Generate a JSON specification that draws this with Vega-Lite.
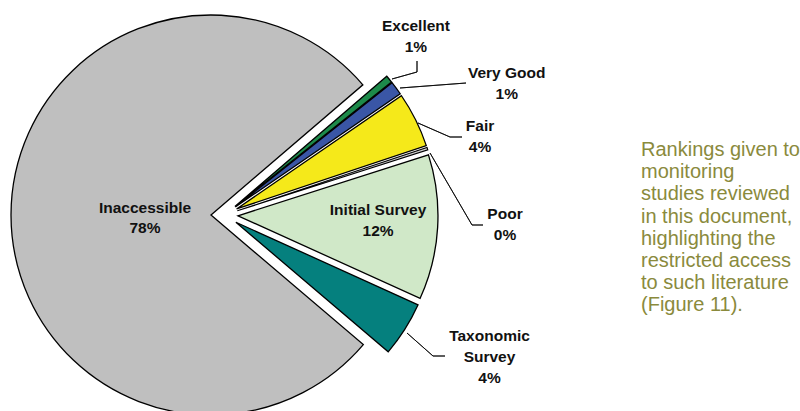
{
  "$schema": "https://vega.github.io/schema/vega-lite/v6.json",
  "background": "white",
  "bounds": "flush",
  "spacing": 20,
  "config": {"view": {"stroke": null}, "font": "Liberation Sans"},
  "hconcat": [
    {
      "width": 439,
      "height": 420,
      "data": {"values": [
        {"label": "Excellent", "pct": 0.6, "order": 1, "text": "Excellent\n1%"},
        {"label": "Very Good", "pct": 1.1, "order": 2, "text": "Very Good\n1%"},
        {"label": "Fair", "pct": 4.45, "order": 3, "text": "Fair\n4%"},
        {"label": "Poor", "pct": 0.2, "order": 4, "text": "Poor\n0%"},
        {"label": "Initial Survey", "pct": 11.7, "order": 5, "text": "Initial Survey\n12%"},
        {"label": "Taxonomic Survey", "pct": 4.45, "order": 6, "text": "Taxonomic\nSurvey\n4%"},
        {"label": "Inaccessible", "pct": 77.5, "order": 7, "text": "Inaccessible\n78%"}
      ]},
      "transform": [
        {"stack": "pct", "groupby": [], "sort": [{"field": "order", "order": "ascending"}], "as": ["t0", "t1"]}
      ],
      "layer": [
        {
          "transform": [{"filter": "datum.label === 'Inaccessible'"}],
          "mark": {"type": "arc", "radius": 200, "stroke": "#000", "strokeWidth": 1.3, "xOffset": -13.5, "yOffset": 0},
          "encoding": {
            "theta": {"field": "t0", "type": "quantitative", "scale": {"domain": [0, 100], "range": [0.86219, 7.14538]}},
            "theta2": {"field": "t1"},
            "color": {"field": "label", "type": "nominal", "legend": null, "scale": {"domain": ["Excellent", "Very Good", "Fair", "Poor", "Initial Survey", "Taxonomic Survey", "Inaccessible"], "range": ["#1d8a4a", "#3a56a6", "#f5e91a", "#d0d0d0", "#d0e8c8", "#05807e", "#bfbfbf"]}}
          }
        },
        {
          "transform": [{"filter": "datum.label === 'Taxonomic Survey'"}],
          "mark": {"type": "arc", "radius": 200, "stroke": "#000", "strokeWidth": 1.3, "xOffset": 11.4, "yOffset": 7.23},
          "encoding": {
            "theta": {"field": "t0", "type": "quantitative", "scale": {"domain": [0, 100], "range": [0.86219, 7.14538]}},
            "theta2": {"field": "t1"},
            "color": {"field": "label", "type": "nominal", "legend": null}
          }
        },
        {
          "transform": [{"filter": "datum.label === 'Initial Survey'"}],
          "mark": {"type": "arc", "radius": 200, "stroke": "#000", "strokeWidth": 1.3, "xOffset": 13.48, "yOffset": 0.78},
          "encoding": {
            "theta": {"field": "t0", "type": "quantitative", "scale": {"domain": [0, 100], "range": [0.86219, 7.14538]}},
            "theta2": {"field": "t1"},
            "color": {"field": "label", "type": "nominal", "legend": null}
          }
        },
        {
          "transform": [{"filter": "datum.label === 'Poor'"}],
          "mark": {"type": "arc", "radius": 200, "stroke": "#000", "strokeWidth": 1.1, "xOffset": 12.83, "yOffset": -4.19},
          "encoding": {
            "theta": {"field": "t0", "type": "quantitative", "scale": {"domain": [0, 100], "range": [0.86219, 7.14538]}},
            "theta2": {"field": "t1"},
            "color": {"field": "label", "type": "nominal", "legend": null}
          }
        },
        {
          "transform": [{"filter": "datum.label === 'Fair'"}],
          "mark": {"type": "arc", "radius": 200, "stroke": "#000", "strokeWidth": 1.3, "xOffset": 12.09, "yOffset": -6.02},
          "encoding": {
            "theta": {"field": "t0", "type": "quantitative", "scale": {"domain": [0, 100], "range": [0.86219, 7.14538]}},
            "theta2": {"field": "t1"},
            "color": {"field": "label", "type": "nominal", "legend": null}
          }
        },
        {
          "transform": [{"filter": "datum.label === 'Very Good'"}],
          "mark": {"type": "arc", "radius": 200, "stroke": "#000", "strokeWidth": 1.3, "xOffset": 10.86, "yOffset": -8.02},
          "encoding": {
            "theta": {"field": "t0", "type": "quantitative", "scale": {"domain": [0, 100], "range": [0.86219, 7.14538]}},
            "theta2": {"field": "t1"},
            "color": {"field": "label", "type": "nominal", "legend": null}
          }
        },
        {
          "transform": [{"filter": "datum.label === 'Excellent'"}],
          "mark": {"type": "arc", "radius": 200, "stroke": "#000", "strokeWidth": 1.3, "xOffset": 10.42, "yOffset": -8.59},
          "encoding": {
            "theta": {"field": "t0", "type": "quantitative", "scale": {"domain": [0, 100], "range": [0.86219, 7.14538]}},
            "theta2": {"field": "t1"},
            "color": {"field": "label", "type": "nominal", "legend": null}
          }
        },
        {
          "transform": [{"filter": "datum.label === 'Excellent'"}],
          "mark": {"type": "arc", "radius": 25.96, "padAngle": 1, "filled": false, "stroke": "#000", "strokeWidth": 0.8, "xOffset": 167.5, "yOffset": -136, "thetaOffset": 0.4168, "theta2Offset": 0.4168},
          "encoding": {
            "theta": {"field": "t0", "type": "quantitative", "scale": {"domain": [0, 100], "range": [0.86219, 7.14538]}},
            "theta2": {"field": "t1"}
          }
        },
        {
          "transform": [{"filter": "datum.label === 'Excellent'"}],
          "mark": {"type": "arc", "radius": 11, "padAngle": 1, "filled": false, "stroke": "#000", "strokeWidth": 0.8, "xOffset": 192.5, "yOffset": -143, "thetaOffset": -0.881, "theta2Offset": -0.881},
          "encoding": {
            "theta": {"field": "t0", "type": "quantitative", "scale": {"domain": [0, 100], "range": [0.86219, 7.14538]}},
            "theta2": {"field": "t1"}
          }
        },
        {
          "transform": [{"filter": "datum.label === 'Very Good'"}],
          "mark": {"type": "arc", "radius": 66.2, "padAngle": 1, "filled": false, "stroke": "#000", "strokeWidth": 0.8, "xOffset": 175.5, "yOffset": -127, "thetaOffset": 0.5608, "theta2Offset": 0.5608},
          "encoding": {
            "theta": {"field": "t0", "type": "quantitative", "scale": {"domain": [0, 100], "range": [0.86219, 7.14538]}},
            "theta2": {"field": "t1"}
          }
        },
        {
          "transform": [{"filter": "datum.label === 'Fair'"}],
          "mark": {"type": "arc", "radius": 34.93, "padAngle": 1, "filled": false, "stroke": "#000", "strokeWidth": 0.8, "xOffset": 193.5, "yOffset": -92, "thetaOffset": 0.8744, "theta2Offset": 0.8744},
          "encoding": {
            "theta": {"field": "t0", "type": "quantitative", "scale": {"domain": [0, 100], "range": [0.86219, 7.14538]}},
            "theta2": {"field": "t1"}
          }
        },
        {
          "transform": [{"filter": "datum.label === 'Fair'"}],
          "mark": {"type": "arc", "radius": 12, "padAngle": 1, "filled": false, "stroke": "#000", "strokeWidth": 0.8, "xOffset": 225.5, "yOffset": -78, "thetaOffset": 0.462, "theta2Offset": 0.462},
          "encoding": {
            "theta": {"field": "t0", "type": "quantitative", "scale": {"domain": [0, 100], "range": [0.86219, 7.14538]}},
            "theta2": {"field": "t1"}
          }
        },
        {
          "transform": [{"filter": "datum.label === 'Poor'"}],
          "mark": {"type": "arc", "radius": 83.35, "padAngle": 1, "filled": false, "stroke": "#000", "strokeWidth": 0.8, "xOffset": 205.5, "yOffset": -62, "thetaOffset": 1.3586, "theta2Offset": 1.3586},
          "encoding": {
            "theta": {"field": "t0", "type": "quantitative", "scale": {"domain": [0, 100], "range": [0.86219, 7.14538]}},
            "theta2": {"field": "t1"}
          }
        },
        {
          "transform": [{"filter": "datum.label === 'Poor'"}],
          "mark": {"type": "arc", "radius": 11, "padAngle": 1, "filled": false, "stroke": "#000", "strokeWidth": 0.8, "xOffset": 247.5, "yOffset": 10, "thetaOffset": 0.3159, "theta2Offset": 0.3159},
          "encoding": {
            "theta": {"field": "t0", "type": "quantitative", "scale": {"domain": [0, 100], "range": [0.86219, 7.14538]}},
            "theta2": {"field": "t1"}
          }
        },
        {
          "transform": [{"filter": "datum.label === 'Taxonomic Survey'"}],
          "mark": {"type": "arc", "radius": 34.7, "padAngle": 1, "filled": false, "stroke": "#000", "strokeWidth": 0.8, "xOffset": 182.5, "yOffset": 118, "thetaOffset": 0.159, "theta2Offset": 0.159},
          "encoding": {
            "theta": {"field": "t0", "type": "quantitative", "scale": {"domain": [0, 100], "range": [0.86219, 7.14538]}},
            "theta2": {"field": "t1"}
          }
        },
        {
          "transform": [{"filter": "datum.label === 'Taxonomic Survey'"}],
          "mark": {"type": "arc", "radius": 12, "padAngle": 1, "filled": false, "stroke": "#000", "strokeWidth": 0.8, "xOffset": 208.5, "yOffset": 141, "thetaOffset": -0.5653, "theta2Offset": -0.5653},
          "encoding": {
            "theta": {"field": "t0", "type": "quantitative", "scale": {"domain": [0, 100], "range": [0.86219, 7.14538]}},
            "theta2": {"field": "t1"}
          }
        },
        {
          "transform": [{"filter": "datum.label === 'Excellent'"}],
          "mark": {"type": "text", "radius": 261.8, "thetaOffset": 0.01885, "dx": -10.5, "dy": -22, "fontSize": 15.5, "fontWeight": "bold", "lineBreak": "\n", "lineHeight": 20.8, "align": "center", "baseline": "middle", "color": "#111"},
          "encoding": {
            "theta": {"field": "t0", "type": "quantitative", "scale": {"domain": [0, 100], "range": [0.86219, 7.14538]}},
            "text": {"field": "text"}
          }
        },
        {
          "transform": [{"filter": "datum.label === 'Very Good'"}],
          "mark": {"type": "text", "radius": 311.5, "thetaOffset": 0.03456, "dx": 31.7, "dy": 43, "fontSize": 15.5, "fontWeight": "bold", "lineBreak": "\n", "lineHeight": 20.8, "align": "center", "baseline": "middle", "color": "#111"},
          "encoding": {
            "theta": {"field": "t0", "type": "quantitative", "scale": {"domain": [0, 100], "range": [0.86219, 7.14538]}},
            "text": {"field": "text"}
          }
        },
        {
          "transform": [{"filter": "datum.label === 'Fair'"}],
          "mark": {"type": "text", "radius": 267, "thetaOffset": 0.1398, "dx": 16.5, "dy": 30, "fontSize": 15.5, "fontWeight": "bold", "lineBreak": "\n", "lineHeight": 20.8, "align": "center", "baseline": "middle", "color": "#111"},
          "encoding": {
            "theta": {"field": "t0", "type": "quantitative", "scale": {"domain": [0, 100], "range": [0.86219, 7.14538]}},
            "text": {"field": "text"}
          }
        },
        {
          "transform": [{"filter": "datum.label === 'Poor'"}],
          "mark": {"type": "text", "radius": 280.7, "thetaOffset": 0.00628, "dx": 13.7, "dy": 86.5, "fontSize": 15.5, "fontWeight": "bold", "lineBreak": "\n", "lineHeight": 20.8, "align": "center", "baseline": "middle", "color": "#111"},
          "encoding": {
            "theta": {"field": "t0", "type": "quantitative", "scale": {"domain": [0, 100], "range": [0.86219, 7.14538]}},
            "text": {"field": "text"}
          }
        },
        {
          "transform": [{"filter": "datum.label === 'Initial Survey'"}],
          "mark": {"type": "text", "radius": 153.6, "thetaOffset": 0.3676, "dx": 0.2, "dy": -13.5, "fontSize": 15.5, "fontWeight": "bold", "lineBreak": "\n", "lineHeight": 20.8, "align": "center", "baseline": "middle", "color": "#111"},
          "encoding": {
            "theta": {"field": "t0", "type": "quantitative", "scale": {"domain": [0, 100], "range": [0.86219, 7.14538]}},
            "text": {"field": "text"}
          }
        },
        {
          "transform": [{"filter": "datum.label === 'Taxonomic Survey'"}],
          "mark": {"type": "text", "radius": 300.2, "thetaOffset": 0.1398, "dx": 11.5, "dy": -39.5, "fontSize": 15.5, "fontWeight": "bold", "lineBreak": "\n", "lineHeight": 20.8, "align": "center", "baseline": "middle", "color": "#111"},
          "encoding": {
            "theta": {"field": "t0", "type": "quantitative", "scale": {"domain": [0, 100], "range": [0.86219, 7.14538]}},
            "text": {"field": "text"}
          }
        },
        {
          "transform": [{"filter": "datum.label === 'Inaccessible'"}],
          "mark": {"type": "text", "radius": 79.6, "thetaOffset": 2.4347, "dx": 0.1, "dy": -7.5, "fontSize": 15.5, "fontWeight": "bold", "lineBreak": "\n", "lineHeight": 20.8, "align": "center", "baseline": "middle", "color": "#111"},
          "encoding": {
            "theta": {"field": "t0", "type": "quantitative", "scale": {"domain": [0, 100], "range": [0.86219, 7.14538]}},
            "text": {"field": "text"}
          }
        }
      ]
    },
    {
      "width": 354,
      "height": 420,
      "data": {"values": [{"note": "Rankings given to\nmonitoring\nstudies reviewed\nin this document,\nhighlighting the\nrestricted access\nto such literature\n(Figure 11)."}]},
      "mark": {"type": "text", "align": "left", "baseline": "middle", "lineBreak": "\n", "fontSize": 20, "lineHeight": 22.2, "color": "#8a8a3c", "dy": -65},
      "encoding": {"text": {"field": "note", "type": "nominal"}}
    }
  ]
}
